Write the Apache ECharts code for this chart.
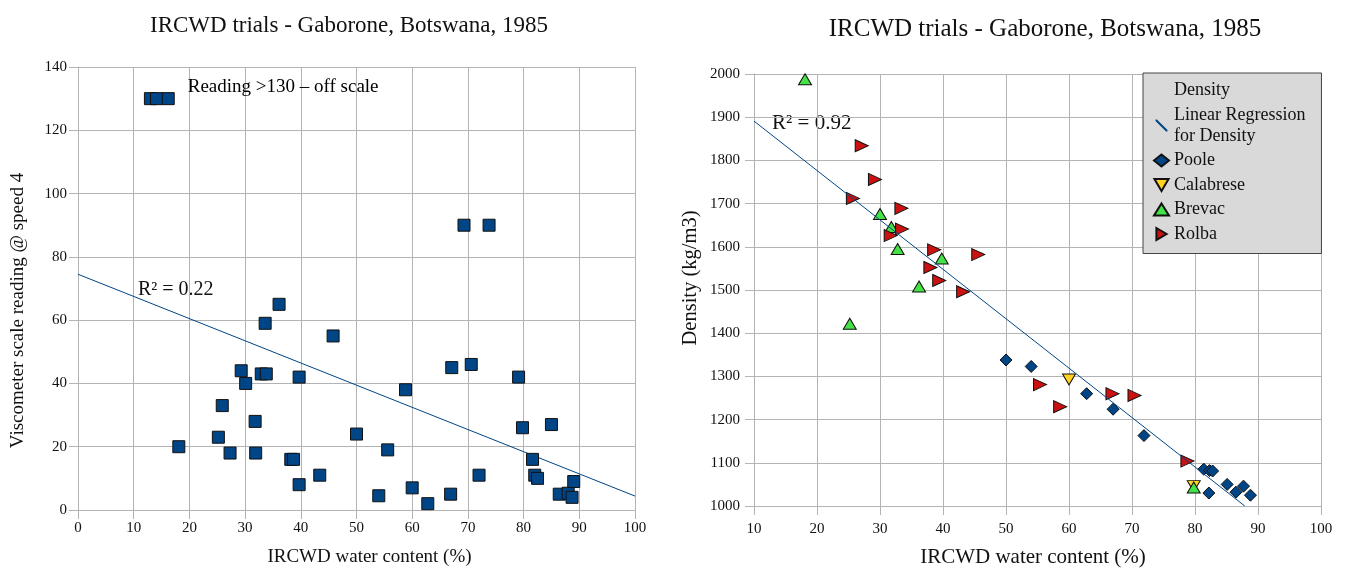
<!DOCTYPE html>
<html>
<head>
<meta charset="utf-8">
<script src="https://cdn.jsdelivr.net/npm/echarts@6/dist/echarts.min.js"></script>
<style>
html,body{margin:0;padding:0;background:#fff;}
#chart{width:1346px;height:573px;}
</style>
</head>
<body>
<div id="chart"></div>
<script>
// ---- Left chart: viscometer reading vs water content ----
const viscX = [18.1,25.2,25.9,27.3,29.3,30.1,31.8,31.9,32.9,33.8,33.6,36.1,38.2,38.7,39.7,39.7,43.4,45.8,50.0,55.6,54.0,58.8,60.0,62.8,67.1,66.9,70.6,72.0,79.1,79.8,85.0,81.6,82.0,82.5,86.4,88.0,88.7,89.0,69.3,73.8];
const viscY = [20,23,33,18,44,40,28,18,43,43,59,65,16,16,42,8,11,55,24,19,4.5,38,7,2,45,5,46,11,42,26,27,16,11,10,5,5.3,4,9,90,90];
const offScaleX = [13.0,14.1,16.2];
const offScaleY = [130,130,130];
const trendLeftX = [0,100];
const trendLeftY = [74.5,4.4];

// ---- Right chart: density vs water content ----
const pooleX = [50,54,62.8,67,71.9,81.4,82.3,82.8,82.2,85.1,86.5,87.7,88.8];
const pooleY = [1338,1323,1260,1224,1163,1085,1082,1081,1030,1050,1032,1046,1025];
const calabreseX = [60,79.8];
const calabreseY = [1293,1046];
const brevacX = [18.1,30.0,31.8,32.8,39.8,36.2,25.2,79.8];
const brevacY = [1988,1676,1646,1595,1573,1508,1422,1043];
const rolbaX = [27.1,29.2,25.7,33.4,33.5,31.7,38.6,45.6,38.0,39.4,43.2,55.4,58.6,66.9,70.4,78.8];
const rolbaY = [1834,1756,1712,1689,1641,1626,1593,1582,1552,1522,1496,1281,1230,1260,1256,1104];
const trendRightX = [10,87.9];
const trendRightY = [1891,1000];

const titleText = 'IRCWD trials - Gaborone, Botswana, 1985';
const xTitle = 'IRCWD water content (%)';
const leftYTitle = 'Viscometer scale reading @ speed 4';
const rightYTitle = 'Density (kg/m3)';
const offScaleNote = 'Reading >130 – off scale';
const r2Left = 'R² = 0.22';
const r2Right = 'R² = 0.92';

const zip = (a, b) => a.map((v, i) => [v, b[i]]);
const FONT = '"Liberation Serif", "Times New Roman", serif';
const GRID = '#b3b3b3';
const BLUE = '#004586';

const chart = echarts.init(document.getElementById('chart'), null, {renderer: 'canvas'});

const offData = zip(offScaleX, offScaleY).map((p, i, arr) => i === arr.length - 1
  ? {value: p, label: {show: true, formatter: offScaleNote, position: 'right', offset: [8, -12],
      fontFamily: FONT, fontSize: 19, color: '#000', opacity: 1}}
  : {value: p});

function axisCommon(fontSize, margin) {
  return {
    axisLine: {show: true, lineStyle: {color: GRID, width: 1}},
    axisTick: {show: true, length: 9, lineStyle: {color: GRID}},
    splitLine: {show: true, lineStyle: {color: GRID, width: 1}},
    axisLabel: {fontFamily: FONT, fontSize: fontSize, color: '#111', margin: margin,
                formatter: v => String(v)}
  };
}

const option = {
  animation: false,
  backgroundColor: '#ffffff',
  title: [
    {text: titleText, left: 344, top: 9, textAlign: 'center',
     textStyle: {fontFamily: FONT, fontSize: 23, fontWeight: 'normal', color: '#111'}},
    {text: titleText, left: 1040, top: 12, textAlign: 'center',
     textStyle: {fontFamily: FONT, fontSize: 25, fontWeight: 'normal', color: '#111'}}
  ],
  grid: [
    {left: 78, right: 711, top: 67, bottom: 63},
    {left: 754, right: 25, top: 74, bottom: 62}
  ],
  xAxis: [
    Object.assign(axisCommon(15, 11), {
      gridIndex: 0, type: 'value', min: 0, max: 100, interval: 10,
      name: xTitle, nameLocation: 'middle', nameGap: 38,
      nameTextStyle: {fontFamily: FONT, fontSize: 19, color: '#111', padding: [0, 0, 0, 26]}
    }),
    Object.assign(axisCommon(15, 16), {
      gridIndex: 1, type: 'value', min: 10, max: 100, interval: 10,
      name: xTitle, nameLocation: 'middle', nameGap: 41,
      nameTextStyle: {fontFamily: FONT, fontSize: 21, color: '#111', padding: [0, 9, 0, 0]}
    })
  ],
  yAxis: [
    Object.assign(axisCommon(15, 11), {
      gridIndex: 0, type: 'value', min: 0, max: 140, interval: 20,
      name: leftYTitle, nameLocation: 'middle', nameGap: 50,
      nameTextStyle: {fontFamily: FONT, fontSize: 19, color: '#111', padding: [0, 44, 0, 0]}
    }),
    Object.assign(axisCommon(15, 14), {
      gridIndex: 1, type: 'value', min: 1000, max: 2000, interval: 100,
      name: rightYTitle, nameLocation: 'middle', nameGap: 53,
      nameTextStyle: {fontFamily: FONT, fontSize: 20.5, color: '#111', padding: [0, 0, 0, 24]}
    })
  ],
  legend: {
    orient: 'vertical', left: 1143, top: 73,
    padding: [7, 16, 9, 10], itemGap: 3.5, itemWidth: 15, itemHeight: 12,
    backgroundColor: '#d9d9d9', borderColor: '#444', borderWidth: 1,
    textStyle: {fontFamily: FONT, fontSize: 18, lineHeight: 21, color: '#111'},
    data: [
      {name: 'Density', icon: 'rect', itemStyle: {color: 'rgba(0,0,0,0)', borderWidth: 0}},
      {name: 'Linear Regression\nfor Density', icon: 'path://M0,0 L1.2,0 L10,8.8 L10,10 L8.8,10 L0,1.2 Z', itemStyle: {color: BLUE, borderWidth: 0}},
      {name: 'Poole'}, {name: 'Calabrese'}, {name: 'Brevac'}, {name: 'Rolba'}
    ]
  },
  graphic: [
    {type: 'text', left: 138, top: 280, style: {text: r2Left, font: '20px ' + FONT, fill: '#111'}},
    {type: 'text', left: 772, top: 113, style: {text: r2Right, font: '21px ' + FONT, fill: '#111'}}
  ],
  series: [
    {type: 'line', xAxisIndex: 0, yAxisIndex: 0, data: zip(trendLeftX, trendLeftY),
     showSymbol: false, symbol: 'none', lineStyle: {color: BLUE, width: 1}, silent: true, z: 1},
    {type: 'scatter', name: 'Viscometer', xAxisIndex: 0, yAxisIndex: 0, symbol: 'rect', symbolSize: 12,
     itemStyle: {color: BLUE, borderColor: '#111', borderWidth: 1, opacity: 1}, data: zip(viscX, viscY), z: 3},
    {type: 'scatter', name: 'Off scale', xAxisIndex: 0, yAxisIndex: 0, symbol: 'rect', symbolSize: 12,
     itemStyle: {color: BLUE, borderColor: '#111', borderWidth: 1, opacity: 1}, data: offData, z: 3},

    {type: 'scatter', name: 'Density', xAxisIndex: 1, yAxisIndex: 1, data: []},
    {type: 'line', name: 'Linear Regression\nfor Density', xAxisIndex: 1, yAxisIndex: 1,
     data: zip(trendRightX, trendRightY), showSymbol: false, symbol: 'none',
     lineStyle: {color: BLUE, width: 1}, itemStyle: {color: BLUE}, z: 4},
    {type: 'scatter', name: 'Poole', xAxisIndex: 1, yAxisIndex: 1, symbol: 'diamond', symbolSize: 12,
     itemStyle: {color: BLUE, borderColor: '#111', borderWidth: 1, opacity: 1}, data: zip(pooleX, pooleY), z: 3},
    {type: 'scatter', name: 'Calabrese', xAxisIndex: 1, yAxisIndex: 1, symbol: 'path://M0,0 L2,0 L1,1.7 Z', symbolSize: [13, 11],
     itemStyle: {color: '#ffd320', borderColor: '#111', borderWidth: 1, opacity: 1}, data: zip(calabreseX, calabreseY), z: 3},
    {type: 'scatter', name: 'Brevac', xAxisIndex: 1, yAxisIndex: 1, symbol: 'triangle', symbolSize: [13, 11],
     itemStyle: {color: '#44e244', borderColor: '#111', borderWidth: 1, opacity: 1}, data: zip(brevacX, brevacY), z: 3},
    {type: 'scatter', name: 'Rolba', xAxisIndex: 1, yAxisIndex: 1, symbol: 'path://M0,0 L1.7,1 L0,2 Z', symbolSize: [13, 12],
     itemStyle: {color: '#cc1111', borderColor: '#111', borderWidth: 1, opacity: 1}, data: zip(rolbaX, rolbaY), z: 3}
  ]
};
chart.setOption(option);
</script>
</body>
</html>
